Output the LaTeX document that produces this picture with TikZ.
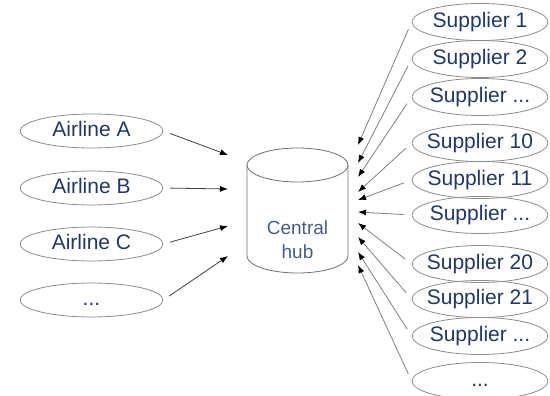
\documentclass[tikz,border=0pt]{standalone}
\usepackage{fontspec}
\setmainfont{Liberation Sans}
\usetikzlibrary{shapes.geometric}
\usetikzlibrary{arrows.meta}
\definecolor{labelblue}{RGB}{31,56,100}
\definecolor{hubblue}{RGB}{68,94,140}
\definecolor{rimgray}{RGB}{140,140,140}
\tikzstyle{airline}=[ellipse,draw=rimgray,minimum width=143pt,minimum height=34pt,inner xsep=-8pt,inner ysep=0pt,text=labelblue,font=\fontsize{21}{24}\selectfont]
\tikzstyle{supplier}=[airline,minimum width=136pt,minimum height=37pt]
\tikzstyle{feed}=[-{Latex[length=8pt,width=6pt,color=black]},draw=black!75,shorten <=7pt]
\tikzstyle{supplyfeed}=[feed,draw=black!50,shorten <=8pt]
\newcommand{\newairline}[4]{ % name, y of ellipse, y of arrow tip, label
  \node[airline] (#1) at (91.5,#2) {\vphantom{Ap}#4};
  \coordinate (#1tip) at (228,#3);
  \draw[feed] (#1.east) -- (#1tip);
}
\newcommand{\newsupplier}[4]{ % name, y of ellipse, y of arrow tip, label
  \node[supplier] (#1) at (480,#2) {\vphantom{Ap}#4};
  \coordinate (#1tip) at (358,#3);
  \draw[supplyfeed] (#1.west) -- (#1tip);
}

\begin{document}
\begin{tikzpicture}[x=1pt,y=-1pt,line width=0.8pt]
\useasboundingbox (0,0) rectangle (550,396);
% central hub drawn as a drum
\draw[rimgray!80!black] (297.5,165) ellipse [x radius=50.5,y radius=17];
\draw[rimgray!80!black] (247,165) -- (247,256) arc [start angle=180,end angle=0,x radius=50.5,y radius=17] -- (348,165);
\node[align=center,text=hubblue,font=\fontsize{19}{24}\selectfont] (hub) at (297.5,240) {Central\\hub};
% airlines
\newairline{a}{131}{155}{Airline A}
\newairline{b}{188}{189}{Airline B}
\newairline{c}{244}{226}{Airline C}
\newairline{d}{300}{256}{...}
% suppliers
\newsupplier{s1}{22}{145}{Supplier 1}
\newsupplier{s2}{59}{163}{Supplier 2}
\newsupplier{s3}{97}{177}{Supplier ...}
\newsupplier{s10}{143}{192}{Supplier 10}
\newsupplier{s11}{180}{200}{Supplier 11}
\newsupplier{s12}{215}{212}{Supplier ...}
\newsupplier{s20}{264}{223}{Supplier 20}
\newsupplier{s21}{299}{237}{Supplier 21}
\newsupplier{s22}{336}{252}{Supplier ...}
\newsupplier{s23}{381}{265}{...}
\end{tikzpicture}
\end{document}
